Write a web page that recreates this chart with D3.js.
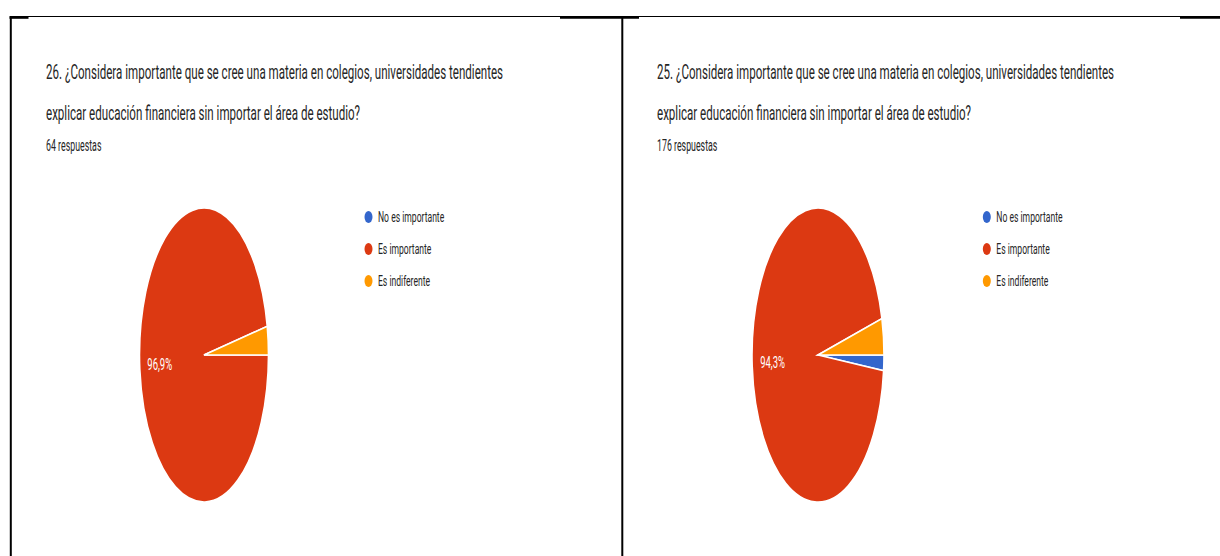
<!DOCTYPE html>
<html lang="es">
<head>
<meta charset="utf-8">
<title>Educación financiera – respuestas</title>
<script src="https://cdn.jsdelivr.net/npm/d3@7/dist/d3.min.js"></script>
<style>
  html, body { margin: 0; padding: 0; background: #fff; }
  svg { display: block; font-family: Roboto, "Noto Sans", Arial, sans-serif; }
</style>
</head>
<body>
<svg id="chart" width="1220" height="556"></svg>
<script>
// Answer options, in the order the form lists them
const categories = ["No es importante", "Es importante", "Es indiferente"];
const sliceColors = ["#3366CC", "#DC3912", "#FF9900"];

// Response counts per option
const q26Counts = [0, 62, 2];   // 64 respuestas
const q25Counts = [3, 166, 7];  // 176 respuestas

// Question texts (two lines each) and response totals
const q26Title = [
  "26. ¿Considera importante que se cree una materia en colegios, universidades tendientes",
  "explicar educación financiera sin importar el área de estudio?"
];
const q25Title = [
  "25. ¿Considera importante que se cree una materia en colegios, universidades tendientes",
  "explicar educación financiera sin importar el área de estudio?"
];
const q26Total = 64;
const q25Total = 176;

const svg = d3.select("#chart");

// Spanish number formatting: decimal comma
const esLocale = d3.formatLocale({ decimal: ",", thousands: ".", grouping: [3], currency: ["", " €"] });
const pct = esLocale.format(".1%");

// Horizontal squeeze applied to every text run
const squeeze = 0.565;

// ---- frame lines ----
const frame = svg.append("g").attr("stroke", "#000").attr("fill", "none");
frame.append("line").attr("x1", 10).attr("x2", 1220).attr("y1", 16.5).attr("y2", 16.5).attr("stroke-width", 1.2);
[[9.5, 28.5], [560, 639], [1180, 1220]].forEach(([a, b]) => {
  frame.append("line").attr("x1", a).attr("x2", b).attr("y1", 17.5).attr("y2", 17.5).attr("stroke-width", 2.6);
});
frame.append("line").attr("x1", 10.8).attr("x2", 10.8).attr("y1", 16).attr("y2", 556).attr("stroke-width", 2);
frame.append("line").attr("x1", 622.3).attr("x2", 622.3).attr("y1", 16).attr("y2", 556).attr("stroke-width", 2);

function squeezedText(g, x, y, str, size, color, anchor) {
  return g.append("text")
    .attr("transform", `translate(${x},${y}) scale(${squeeze},1)`)
    .attr("font-size", size)
    .attr("fill", color)
    .attr("text-anchor", anchor || "start")
    .text(str);
}

const pie = d3.pie().sort(null).value(d => d.value)
  .startAngle(Math.PI / 2).endAngle(Math.PI / 2 + 2 * Math.PI);

function drawPanel(cfg) {
  const g = svg.append("g");

  // question and response count
  cfg.title.forEach((line, i) => {
    squeezedText(g, cfg.textX, 79 + i * 41, line, 20.5, "#262626");
  });
  squeezedText(g, cfg.textX, 151, `${cfg.total} respuestas`, 15.6, "#262626");

  // pie, drawn on a circle then stretched into the panel's ellipse
  const data = categories.map((c, i) => ({ cat: c, value: cfg.counts[i], color: sliceColors[i] }));
  const arcs = pie(data).filter(d => d.value > 0);
  const ry = 147, rx = cfg.rx;
  const arc = d3.arc().innerRadius(0).outerRadius(ry);
  const pieG = g.append("g")
    .attr("transform", `translate(${cfg.cx},${cfg.cy}) scale(${rx / ry},1)`);
  pieG.selectAll("path").data(arcs).join("path")
    .attr("d", arc)
    .attr("fill", d => d.data.color)
    .attr("stroke", "#fff")
    .attr("stroke-width", 1.6)
    .attr("vector-effect", "non-scaling-stroke");

  // percentage labels on the larger slices
  const total = d3.sum(cfg.counts);
  arcs.filter(d => d.value / total > 0.05).forEach(d => {
    const mid = (d.startAngle + d.endAngle) / 2;
    const x = cfg.cx + Math.sin(mid) * rx * 0.69;
    const y = cfg.cy - Math.cos(mid) * ry * 0.69;
    squeezedText(g, x, y + 5.5, pct(d.value / total), 16.8, "#fff", "middle");
  });

  // legend
  categories.forEach((c, i) => {
    const y = 217 + i * 32;
    g.append("ellipse")
      .attr("cx", cfg.legendX).attr("cy", y)
      .attr("rx", 4).attr("ry", 6)
      .attr("fill", sliceColors[i]);
    squeezedText(g, cfg.legendX + 9.5, y + 5.2, c, 15.2, "#262626");
  });
}

drawPanel({ title: q26Title, total: q26Total, counts: q26Counts, textX: 46, cx: 204, cy: 355, rx: 64.5, legendX: 368.5 });
drawPanel({ title: q25Title, total: q25Total, counts: q25Counts, textX: 657, cx: 818, cy: 355, rx: 66, legendX: 986.8 });
</script>
</body>
</html>
